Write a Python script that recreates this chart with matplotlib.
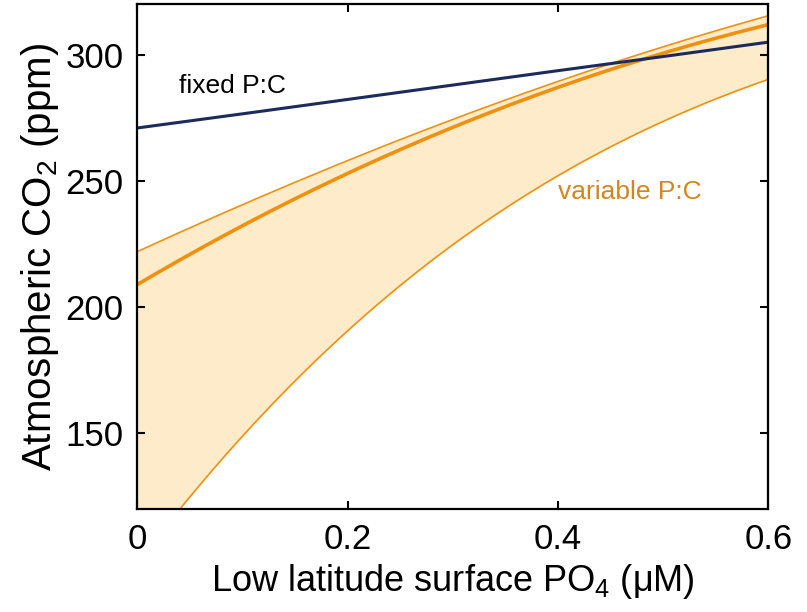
import numpy as np
import matplotlib
matplotlib.use("Agg")
from matplotlib import pyplot as plt

# values
po4 = [0.0, 0.05, 0.1, 0.2, 0.3, 0.4, 0.5, 0.6]
co2_fixed = [271.0, 273.8, 276.6, 282.3, 288.0, 293.7, 299.3, 305.0]
co2_var_mid = [209.0, 221.0, 232.0, 253.0, 271.5, 287.0, 300.5, 312.0]
co2_var_high = [222.0, 231.5, 240.5, 258.0, 274.5, 289.5, 303.0, 315.5]
co2_var_low = [98.0, 125.0, 150.0, 190.0, 224.0, 252.5, 274.0, 290.0]

x_ticks = [0, 0.2, 0.4, 0.6]
x_tick_labels = ["0", "0.2", "0.4", "0.6"]
y_ticks = [150, 200, 250, 300]

plt.rcParams['font.family'] = ['Liberation Sans', 'DejaVu Sans']
plt.rcParams['mathtext.fontset'] = 'custom'
plt.rcParams['mathtext.rm'] = 'Liberation Sans'

navy = "#1c2b5c"
orange = "#f0900f"
fill_col = "#fdebc9"
text_orange = "#d2861e"

# smooth the read points a little for drawing
xs = np.linspace(0, 0.6, 200)
def smooth(vals):
    coef = np.polyfit(po4, vals, 3)
    return np.polyval(coef, xs)

fig = plt.figure(figsize=(8.07, 6.12), dpi=100)
ax = fig.add_axes([0.170, 0.168, 0.782, 0.825])

hi = smooth(co2_var_high)
lo = smooth(co2_var_low)
mid = smooth(co2_var_mid)

ax.fill_between(xs, lo, hi, color=fill_col, lw=0)
ax.plot(xs, hi, color=orange, lw=1.2)
ax.plot(xs, lo, color=orange, lw=1.2)
ax.plot(xs, mid, color=orange, lw=2.6)
ax.plot(po4, co2_fixed, color=navy, lw=2.2)

ax.text(0.040, 287.5, "fixed P:C", fontsize=19, color="black", va="center")
ax.text(0.400, 245.5, "variable P:C", fontsize=19, color=text_orange, va="center")

ax.set_xlim(0, 0.6)
ax.set_ylim(120, 320)
ax.set_xticks(x_ticks)
ax.set_xticklabels(x_tick_labels)
ax.set_yticks(y_ticks)
ax.tick_params(direction="in", length=6, width=1.5, labelsize=25, pad=10,
               top=True, right=True)
for s in ax.spines.values():
    s.set_linewidth(1.6)

ax.set_xlabel(r"Low latitude surface PO$_\mathregular{4}$ ($\mathregular{\mu}$M)", fontsize=26, labelpad=4)
ax.set_ylabel(r"Atmospheric CO$_\mathregular{2}$ (ppm)", fontsize=29, labelpad=3)

fig.savefig("out.png", dpi=100)
